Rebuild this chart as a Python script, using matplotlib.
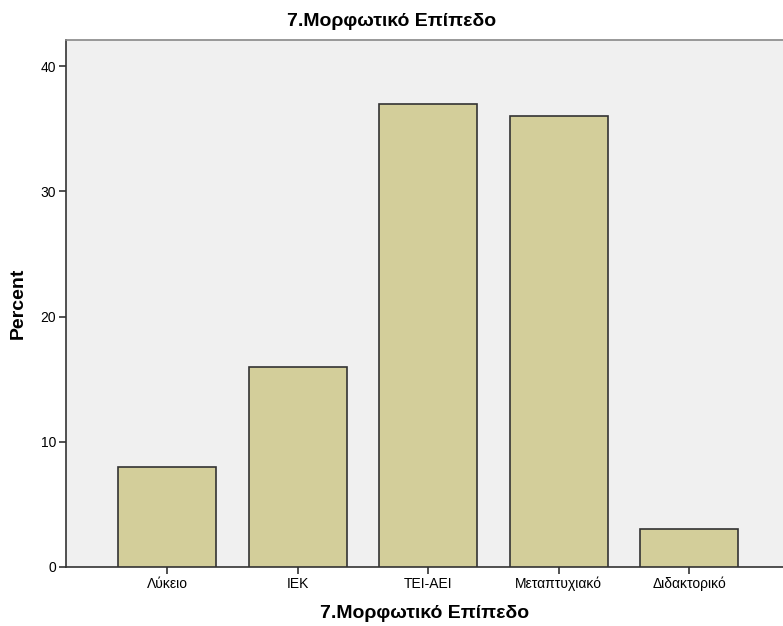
import matplotlib
matplotlib.use("Agg")
import matplotlib.pyplot as plt

categories = ["Λύκειο", "ΙΕΚ", "ΤΕΙ-ΑΕΙ", "Μεταπτυχιακό", "Διδακτορικό"]
percent = [8, 16, 37, 36, 3]
yticks = [0, 10, 20, 30, 40]

plt.rcParams['font.family'] = ['Liberation Sans', 'DejaVu Sans']

fig = plt.figure(figsize=(7.83, 6.26), dpi=100)
ax = fig.add_axes([66/783, 59/626, 1 - 66/783, (567-40)/626])
ax.set_facecolor('#F0F0F0')

x = list(range(len(categories)))
ax.bar(x, percent, width=0.75, color='#D3CE9A', edgecolor='#333333', linewidth=1.2, zorder=3)

ax.set_xlim(-0.773, 4.716)
ax.set_ylim(0, 42.08)
ax.set_xticks(x)
ax.set_xticklabels(categories, fontsize=10)
ax.set_yticks(yticks)
ax.set_yticklabels([str(t) for t in yticks], fontsize=10)

ax.spines['right'].set_visible(False)
ax.spines['top'].set_color('#888888')
ax.spines['top'].set_linewidth(1.2)
ax.spines['left'].set_color('#333333')
ax.spines['bottom'].set_color('#333333')
ax.spines['left'].set_linewidth(1.2)
ax.spines['bottom'].set_linewidth(1.2)
ax.tick_params(axis='both', length=5, width=1.2, color='#333333', pad=2)

ax.set_ylabel("Percent", fontsize=14, fontweight='bold', labelpad=10)
ax.set_xlabel("7.Μορφωτικό Επίπεδο", fontsize=14, fontweight='bold', labelpad=10)
fig.text(0.5, 1 - 22/626, "7.Μορφωτικό Επίπεδο", fontsize=14, fontweight='bold',
         ha='center', va='center')

fig.savefig("out.png", dpi=100)
